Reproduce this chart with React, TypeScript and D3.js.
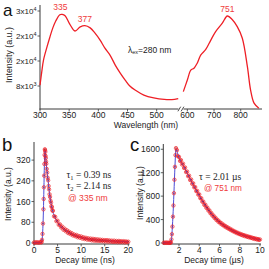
import React from "react";
import * as d3 from "d3";

// ---------- Panel a: emission spectrum ----------
const wlLeft = [300, 303, 306, 312, 317, 322, 327, 334, 338, 343, 351, 360, 369, 377, 386, 394, 403, 411, 420, 429, 437, 446, 454, 463, 478, 495, 513, 526, 537];
const intLeft = [8300, 12500, 16300, 20500, 23700, 26600, 28800, 30800, 30900, 30500, 27800, 25600, 26900, 27300, 26600, 25000, 22700, 20200, 17900, 14700, 12300, 9900, 8000, 6700, 5100, 4200, 3700, 3650, 3950];
const wlRight = [585, 600, 613, 625, 637, 650, 669, 688, 706, 731, 750, 768, 787, 806, 825, 837, 850, 868];
const intRight = [6200, 9900, 13100, 13700, 15300, 17900, 19700, 22700, 25400, 28100, 30400, 29300, 27000, 23300, 14200, 6700, 2500, 900];
const aTicksLeft = [300, 350, 400, 450, 500];
const aTicksRight = [600, 700, 800];
const aYTicks = [8000, 16000, 24000, 32000];
const aYTickBase = ["8x10", "2x10", "2x10", "3x10"];
const aYTickExp = ["3", "4", "4", "4"];
const aPeaks = [
  { wl: 335, v: 31000, label: "335", side: "L" },
  { wl: 377, v: 27300, label: "377", side: "L" },
  { wl: 750, v: 30400, label: "751", side: "R" },
];

// ---------- Panel b: decay @335 nm (ns) ----------
const bData: [number, number][] = [
  [0, 2], [0.25, 1], [0.5, 3], [0.75, 2], [1, 1], [1.25, 3], [1.5, 2],
  [1.6, 4], [1.7, 12], [1.8, 35], [1.9, 75], [2.0, 130], [2.05, 170], [2.1, 215], [2.15, 260], [2.2, 305], [2.25, 340], [2.3, 362],
  [2.35, 358], [2.4, 352], [2.45, 336], [2.5, 328], [2.55, 314], [2.6, 306], [2.7, 286], [2.8, 272], [2.9, 252], [3.0, 242],
  [3.1, 220], [3.2, 207], [3.3, 188], [3.4, 178], [3.5, 163], [3.6, 156], [3.7, 142], [3.8, 138], [3.9, 126],
  [4.0, 124], [4.25, 103], [4.5, 101], [4.75, 84], [5.0, 86], [5.25, 70], [5.5, 72], [5.75, 60], [6.0, 63], [6.25, 51],
  [6.5, 55], [6.75, 45], [7.0, 49], [7.25, 38], [7.5, 43], [7.75, 34], [8.0, 38], [8.25, 29], [8.5, 33], [8.75, 26],
  [9.0, 31], [9.25, 22], [9.5, 27], [9.75, 20], [10.0, 25], [10.25, 17], [10.5, 22], [10.75, 15], [11.0, 20], [11.25, 13],
  [11.5, 18], [11.75, 12], [12.0, 17], [12.25, 10], [12.5, 16], [12.75, 9], [13.0, 15], [13.25, 8], [13.5, 14], [13.75, 8],
  [14.0, 13], [14.25, 7], [14.5, 12], [14.75, 6], [15.0, 11], [15.25, 6], [15.5, 11], [15.75, 5], [16.0, 10], [16.25, 5],
  [16.5, 9], [16.75, 4], [17.0, 9], [17.25, 4], [17.5, 8], [17.75, 3], [18.0, 8], [18.25, 3], [18.5, 7], [18.75, 3],
  [19.0, 7], [19.25, 2], [19.5, 6], [19.75, 3], [20.0, 5],
];
const bFitT = [0, 1.6, 1.8, 2.0, 2.1, 2.2, 2.3, 2.4, 2.5, 2.7, 3.0, 3.3, 3.6, 4.0, 4.5, 5, 6, 7, 8, 10, 12, 14, 16, 18, 20];
const bFitV = [1, 2, 30, 125, 210, 300, 355, 348, 326, 288, 240, 190, 154, 121, 97, 80, 58, 45, 34, 21, 14, 10, 8, 6, 5];
const bXTicks = [0, 5, 10, 15, 20];
const bYTicks = [0, 80, 160, 240, 320];

// ---------- Panel c: decay @751 nm (µs) ----------
const cData: [number, number][] = [
  [0.5, 5], [0.6, 2], [0.7, 8], [0.8, 3], [0.9, 6], [1.0, 2], [1.1, 4], [1.15, 5],
  [1.2, 10], [1.25, 60], [1.3, 150], [1.35, 280], [1.4, 450], [1.45, 640], [1.5, 850], [1.55, 1080], [1.6, 1300], [1.65, 1500], [1.7, 1620],
  [1.8, 1585], [1.9, 1480], [2.0, 1470], [2.1, 1400], [2.2, 1415], [2.3, 1340], [2.4, 1355], [2.5, 1280], [2.6, 1290], [2.7, 1210],
  [2.8, 1220], [2.9, 1140], [3.0, 1150], [3.1, 1075], [3.2, 1085], [3.3, 1010], [3.4, 1020], [3.5, 950], [3.6, 955], [3.7, 885],
  [3.8, 890], [3.9, 825], [4.0, 830], [4.1, 765], [4.2, 765], [4.3, 705], [4.4, 708], [4.5, 650], [4.6, 655], [4.7, 600],
  [4.8, 605], [4.9, 553], [5.0, 558], [5.1, 508], [5.2, 512], [5.3, 466], [5.4, 470], [5.5, 428], [5.6, 432], [5.7, 392],
  [5.8, 396], [5.9, 360], [6.0, 365], [6.1, 332], [6.2, 338], [6.3, 307], [6.4, 312], [6.5, 283], [6.6, 289], [6.7, 262],
  [6.8, 268], [6.9, 242], [7.0, 248], [7.1, 222], [7.2, 228], [7.3, 203], [7.4, 208], [7.5, 186], [7.6, 191], [7.7, 169],
  [7.8, 175], [7.9, 155], [8.0, 160], [8.1, 141], [8.2, 147], [8.3, 129], [8.4, 135], [8.5, 117], [8.6, 124], [8.7, 106],
  [8.8, 113], [8.9, 97], [9.0, 104], [9.1, 87], [9.2, 93], [9.3, 76], [9.4, 84], [9.5, 67], [9.6, 75], [9.7, 59],
  [9.8, 68], [9.9, 52], [10.0, 60],
];
const cFitT = [0.45, 1.2, 1.3, 1.4, 1.5, 1.6, 1.7, 2.0, 2.5, 3, 4, 5, 6, 7, 8, 9, 10];
const cFitV = [3, 10, 150, 450, 850, 1300, 1600, 1450, 1300, 1127, 811, 544, 355, 240, 154, 98, 55];
const cXTicks = [2, 4, 6, 8, 10];
const cYTicks = [0, 400, 800, 1200, 1600];

const SANS = "'Liberation Sans', Arial, Helvetica, sans-serif";
const SERIF = "'Liberation Serif', 'Times New Roman', serif";
const RED = "#ee1f26";
const RED_TXT = "#ef3b3b";
const AX = "#3a3a3a";
const BLUE = "#4b4bd6";

export default function App() {
  // scales
  const xA1 = d3.scaleLinear().domain([300, 540]).range([40, 180]);
  const xA2 = d3.scaleLinear().domain([580, 870]).range([182, 259.4]);
  const yA = d3.scaleLinear().domain([640, 33920]).range([109, 5]);

  const xB = d3.scaleLinear().domain([0, 20]).range([34, 128.3]);
  const yB = d3.scaleLinear().domain([-4, 390]).range([244, 142]);

  const xC = d3.scaleLinear().domain([0.45, 10.05]).range([163.3, 260.5]);
  const yC = d3.scaleLinear().domain([-17, 1690]).range([244, 144]);

  const lineA1 = d3.line<number>().x((_, i) => xA1(wlLeft[i])).y((d) => yA(d)).curve(d3.curveCatmullRom.alpha(0.5));
  const lineA2 = d3.line<number>().x((_, i) => xA2(wlRight[i])).y((d) => yA(d)).curve(d3.curveCatmullRom.alpha(0.5));
  const fitB = d3.line<number>().x((_, i) => xB(bFitT[i])).y((d) => yB(d)).curve(d3.curveMonotoneX);
  const fitC = d3.line<number>().x((_, i) => xC(cFitT[i])).y((d) => yC(d)).curve(d3.curveMonotoneX);

  const tickFont = 8.5;

  return (
    <svg width={269} height={269} style={{ position: "absolute", left: 0, top: 0, background: "#fff" }} fontFamily={SANS}>
      <rect width={269} height={269} fill="#fff" />
      {/* ===== Panel a ===== */}
      <text x={3} y={15.5} fontSize={17} fill="#111">a</text>
      {/* axes */}
      <line x1={40} y1={5} x2={40} y2={109.5} stroke={AX} strokeWidth={1} />
      <line x1={39.5} y1={109} x2={178.5} y2={109} stroke={AX} strokeWidth={1} />
      <line x1={183.5} y1={109} x2={262} y2={109} stroke={AX} strokeWidth={1} />
      {[179.3, 182.5].map((bx, i) => (
        <line key={i} x1={bx - 1.4} y1={111.3} x2={bx + 1.4} y2={106.7} stroke={AX} strokeWidth={0.9} />
      ))}
      {aTicksLeft.map((t) => (
        <g key={"al" + t}>
          <line x1={xA1(t)} x2={xA1(t)} y1={109} y2={111.5} stroke={AX} strokeWidth={0.8} />
          <text x={xA1(t)} y={118} fontSize={tickFont} textAnchor="middle" fill="#222">{t}</text>
        </g>
      ))}
      {aTicksRight.map((t) => (
        <g key={"ar" + t}>
          <line x1={xA2(t)} x2={xA2(t)} y1={109} y2={111.5} stroke={AX} strokeWidth={0.8} />
          <text x={xA2(t)} y={118} fontSize={tickFont} textAnchor="middle" fill="#222">{t}</text>
        </g>
      ))}
      {aYTicks.map((t, i) => (
        <g key={"ay" + t}>
          <line x1={37.5} x2={40} y1={yA(t)} y2={yA(t)} stroke={AX} strokeWidth={0.8} />
          <text x={36.5} y={yA(t) + 3} fontSize={8} textAnchor="end" fill="#222">
            {aYTickBase[i]}
            <tspan fontSize={5.5} dy={-3.5}>{aYTickExp[i]}</tspan>
          </text>
        </g>
      ))}
      <text x={146} y={127.5} fontSize={8.5} textAnchor="middle" fill="#222">Wavelength (nm)</text>
      <text transform="translate(11.5,55) rotate(-90)" fontSize={8.8} textAnchor="middle" fill="#222">Intensity (a.u.)</text>
      <path d={lineA1(intLeft) || ""} fill="none" stroke={RED} strokeWidth={1.3} />
      <path d={lineA2(intRight) || ""} fill="none" stroke={RED} strokeWidth={1.3} />
      {aPeaks.map((p) => (
        <text key={p.label} x={p.side === "L" ? xA1(p.wl) : xA2(p.wl)} y={yA(p.v) - 4} fontSize={8.5} textAnchor="middle" fill={RED_TXT}>
          {p.label}
        </text>
      ))}
      <text x={128} y={52.5} fontSize={8.5} fill="#222">
        {"λ"}
        <tspan fontSize={5.5} dy={1.8}>ex</tspan>
        <tspan dy={-1.8}>=280 nm</tspan>
      </text>

      {/* ===== Panel b ===== */}
      <text x={2} y={150.5} fontSize={18.5} fill="#111">b</text>
      <line x1={34} y1={142} x2={34} y2={244.5} stroke={AX} strokeWidth={1} />
      <line x1={33.5} y1={244} x2={129.5} y2={244} stroke={AX} strokeWidth={1} />
      {bXTicks.map((t) => (
        <g key={"bx" + t}>
          <line x1={xB(t)} x2={xB(t)} y1={244} y2={246.3} stroke={AX} strokeWidth={0.8} />
          <text x={xB(t)} y={252.5} fontSize={tickFont} textAnchor="middle" fill="#222">{t}</text>
        </g>
      ))}
      {bYTicks.map((t) => (
        <g key={"by" + t}>
          <line x1={31.5} x2={34} y1={yB(t)} y2={yB(t)} stroke={AX} strokeWidth={0.8} />
          <text x={30.5} y={yB(t) + 3} fontSize={tickFont} textAnchor="end" fill="#222">{t}</text>
        </g>
      ))}
      <text x={85} y={263} fontSize={8.5} textAnchor="middle" fill="#222">Decay time (ns)</text>
      <text transform="translate(10.5,194) rotate(-90)" fontSize={8.5} textAnchor="middle" fill="#222">Intensity (a.u.)</text>
      {bData.map(([t, v], i) => (
        <circle key={"bd" + i} cx={xB(t)} cy={yB(v)} r={0.8} fill="#a00010" />
      ))}
      <path d={fitB(bFitV) || ""} fill="none" stroke={BLUE} strokeWidth={1} />
      {bData.map(([t, v], i) => (
        <circle key={"bc" + i} cx={xB(t)} cy={yB(v)} r={1.7} fill="none" stroke={RED} strokeWidth={0.7} />
      ))}
      <text x={66.5} y={178} fontSize={9.5} fontFamily={SERIF} fill="#222">
        {"τ"}
        <tspan fontSize={6.5} dy={2}>1</tspan>
        <tspan dy={-2}>{" = 0.39 ns"}</tspan>
      </text>
      <text x={66.5} y={189.3} fontSize={9.5} fontFamily={SERIF} fill="#222">
        {"τ"}
        <tspan fontSize={6.5} dy={2}>2</tspan>
        <tspan dy={-2}>{" = 2.14 ns"}</tspan>
      </text>
      <text x={68} y={200.5} fontSize={8.6} fill={RED_TXT}>@ 335 nm</text>

      {/* ===== Panel c ===== */}
      <text x={130} y={150.5} fontSize={18.5} fill="#111">c</text>
      <line x1={163.3} y1={144} x2={163.3} y2={244.5} stroke={AX} strokeWidth={1} />
      <line x1={162.8} y1={244} x2={261} y2={244} stroke={AX} strokeWidth={1} />
      {cXTicks.map((t) => (
        <g key={"cx" + t}>
          <line x1={xC(t)} x2={xC(t)} y1={244} y2={246.3} stroke={AX} strokeWidth={0.8} />
          <text x={xC(t)} y={253} fontSize={tickFont} textAnchor="middle" fill="#222">{t}</text>
        </g>
      ))}
      {cYTicks.map((t) => (
        <g key={"cy" + t}>
          <line x1={160.8} x2={163.3} y1={yC(t)} y2={yC(t)} stroke={AX} strokeWidth={0.8} />
          <text x={160} y={yC(t) + 3} fontSize={tickFont} textAnchor="end" fill="#222">{t}</text>
        </g>
      ))}
      <text x={214} y={262.5} fontSize={8.5} textAnchor="middle" fill="#222">Decay time (µs)</text>
      <text transform="translate(143,193) rotate(-90)" fontSize={8.5} textAnchor="middle" fill="#222">Intensity (a.u.)</text>
      {cData.map(([t, v], i) => (
        <circle key={"cd" + i} cx={xC(t)} cy={yC(v)} r={0.8} fill="#a00010" />
      ))}
      <path d={fitC(cFitV) || ""} fill="none" stroke={BLUE} strokeWidth={1} />
      {cData.map(([t, v], i) => (
        <circle key={"cc" + i} cx={xC(t)} cy={yC(v)} r={1.7} fill="none" stroke={RED} strokeWidth={0.7} />
      ))}
      <text x={199} y={180} fontSize={9.5} fontFamily={SERIF} fill="#222">{"τ = 2.01 µs"}</text>
      <text x={204} y={190.8} fontSize={8.2} fill={RED_TXT}>@ 751 nm</text>
    </svg>
  );
}
